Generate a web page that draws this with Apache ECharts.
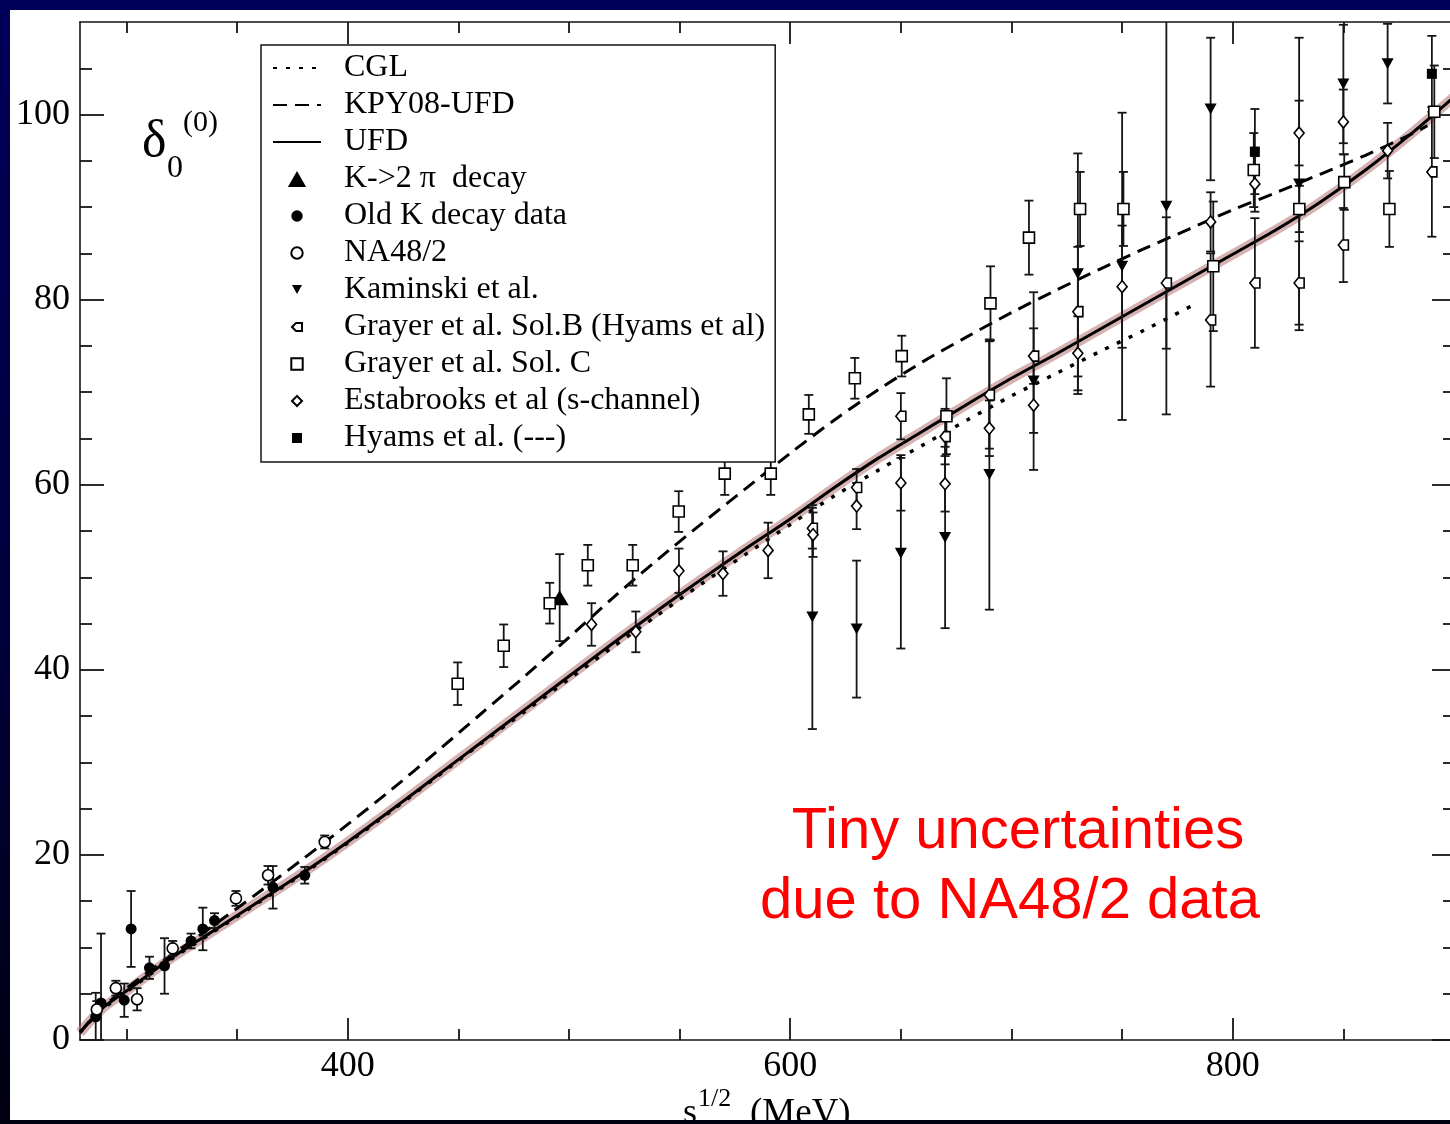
<!DOCTYPE html>
<html><head><meta charset="utf-8">
<script src="https://cdn.jsdelivr.net/npm/echarts/dist/echarts.min.js"></script>
<style>
html,body{margin:0;padding:0;width:1450px;height:1124px;overflow:hidden;
background:linear-gradient(to bottom,#00005a 0%,#00003c 55%,#000010 100%);}
#main{position:absolute;left:10px;top:10px;width:1440px;height:1110px;background:#fff;}
</style></head><body><div id="main"></div>
<script>
// ---------- axes ----------
const X_MIN = 279, X_MAX = 900, Y_MIN = 0, Y_MAX = 110;
const xMajorTicks = [400, 600, 800];
const xMinorTicks = [300, 350, 450, 500, 550, 650, 700, 750, 850, 900];
const yMajorTicks = [0, 20, 40, 60, 80, 100];
const yMinorTicks = [5, 10, 15, 25, 30, 35, 45, 50, 55, 65, 70, 75, 85, 90, 95, 105];

// ---------- curves ----------
const ufdX = [279, 285, 290, 300, 320, 340, 360, 380, 400, 420, 440, 460, 480, 500, 520, 540, 560, 580, 600, 620, 640, 660, 680, 700, 720, 740, 760, 780, 800, 820, 840, 860, 880, 900];
const ufdY = [0.8, 2.4, 3.6, 5.3, 8.8, 11.9, 15.0, 18.1, 21.4, 24.9, 28.5, 32.1, 35.7, 39.3, 42.9, 46.4, 49.8, 53.1, 56.3, 59.7, 62.9, 65.8, 68.7, 71.5, 74.1, 76.8, 79.5, 82.2, 84.9, 87.6, 90.6, 94.0, 97.8, 101.9];

const kpyX = [279, 285, 290, 300, 320, 340, 360, 380, 400, 420, 440, 460, 480, 500, 520, 540, 560, 580, 600, 620, 640, 660, 680, 700, 720, 740, 760, 780, 800, 820, 840, 860, 880, 888];
const kpyY = [0.8, 2.5, 3.7, 5.6, 9.1, 12.5, 16.0, 19.6, 23.3, 27.1, 31.1, 35.2, 39.3, 43.5, 47.8, 51.9, 55.8, 59.6, 63.4, 67.0, 70.3, 73.3, 76.0, 78.6, 81.0, 83.3, 85.5, 87.6, 89.7, 91.6, 93.6, 95.6, 97.8, 98.8];

const cglX = [279, 285, 290, 300, 320, 340, 360, 380, 400, 420, 440, 460, 480, 500, 520, 540, 560, 580, 600, 620, 640, 660, 680, 700, 720, 740, 760, 782];
const cglY = [0.8, 2.4, 3.5, 5.2, 8.7, 11.8, 14.9, 18.0, 21.3, 24.8, 28.4, 32.0, 35.5, 39.0, 42.5, 45.9, 49.3, 52.5, 55.7, 58.8, 61.6, 64.3, 67.0, 69.6, 72.0, 74.4, 76.7, 79.4];

// ---------- data points ----------
const k2piX = [495.8];
const k2piY = [47.8];
const k2piErr = [4.7];

const oldKX = [286.1, 288.5, 299.0, 302.1, 310.4, 317.2, 329.2, 334.5, 339.8, 366.2, 380.6];
const oldKY = [2.5, 4.0, 4.3, 12.0, 7.8, 8.0, 10.7, 12.0, 12.9, 16.5, 17.8];
const oldKErr = [2.6, 7.5, 1.8, 4.1, 1.2, 3.0, 0.8, 2.3, 0.8, 2.3, 0.9];

const na48X = [286.6, 295.2, 304.8, 320.9, 349.5, 364.0, 389.6];
const na48Y = [3.3, 5.6, 4.4, 9.9, 15.3, 17.8, 21.4];
const na48Err = [0.9, 0.8, 1.2, 0.8, 0.8, 1.0, 0.7];

const kamX = [610, 630, 650, 670, 690, 710, 730, 750, 770, 790, 830, 850, 870];
const kamY = [45.7, 44.4, 52.6, 54.3, 61.1, 71.2, 82.8, 83.6, 90.1, 100.6, 92.5, 103.3, 105.5];
const kamErr = [12.1, 7.4, 10.3, 9.8, 14.6, 9.6, 13.0, 16.6, 22.5, 7.7, 15.8, 6.4, 4.3];

const grBX = [610, 630, 650, 670, 690, 710, 730, 770, 790, 810, 830, 850, 890];
const grBY = [55.3, 59.7, 67.4, 65.2, 69.7, 73.9, 78.7, 81.8, 77.8, 81.8, 81.8, 85.9, 93.8];
const grBErr = [2.2, 2.0, 2.5, 3.0, 5.8, 3.0, 7.0, 7.1, 7.2, 7.0, 4.5, 4.0, 7.0];

const grCX = [449.7, 470.5, 491.3, 508.5, 528.8, 549.6, 570.4, 591.2, 608.4, 629.2, 650.4, 670.6, 690.5, 707.9, 731.0, 750.6, 791.2, 809.5, 830.1, 850.4, 870.8, 891.1];
const grCY = [38.5, 42.6, 47.2, 51.3, 51.3, 57.1, 61.2, 61.2, 67.6, 71.5, 73.9, 67.4, 79.6, 86.7, 89.8, 89.8, 83.6, 94.0, 89.8, 92.7, 89.8, 100.3];
const grCErr = [2.3, 2.3, 2.2, 2.2, 2.2, 2.2, 2.3, 2.3, 2.1, 2.2, 2.2, 4.1, 4.0, 4.0, 4.0, 4.0, 7.0, 4.0, 2.5, 3.0, 4.1, 5.0];

const estX = [510.2, 530.2, 549.7, 569.6, 590.0, 610.3, 630.0, 650.0, 670.0, 690.0, 710.0, 730.0, 750.0, 790.0, 810.0, 830.0, 850.0, 870.0];
const estY = [44.9, 44.1, 50.7, 50.4, 52.9, 54.6, 57.7, 60.2, 60.1, 66.1, 68.6, 74.2, 81.4, 88.4, 92.5, 98.0, 99.2, 96.1];
const estErr = [2.3, 2.2, 2.4, 2.4, 3.0, 2.4, 2.5, 3.0, 3.0, 3.0, 3.0, 4.0, 6.6, 3.2, 3.0, 3.5, 3.5, 3.0];

const hyX = [810, 890];
const hyY = [96.0, 104.4];
const hyErr = [4.6, 4.1];

// ---------- names ----------
const N_CGL = 'CGL', N_KPY = 'KPY08-UFD', N_UFD = 'UFD';
const N_K2PI = 'K->2 π  decay', N_OLDK = 'Old K decay data', N_NA48 = 'NA48/2';
const N_KAM = 'Kaminski et al.', N_GRB = 'Grayer et al. Sol.B (Hyams et al)';
const N_GRC = 'Grayer et al. Sol. C', N_EST = 'Estabrooks et al (s-channel)', N_HY = 'Hyams et al. (---)';

// ---------- helpers ----------
const zip = (xs, ys) => xs.map((x, i) => [x, ys[i]]);
const SERIF = '"Liberation Serif","Times New Roman",serif';
const INK = '#151515';

function errSeries(xs, ys, errs) {
  return {
    type: 'custom', name: '_err', xAxisIndex: 0, yAxisIndex: 0, z: 3, silent: true, clip: true,
    data: xs.map((x, i) => [x, ys[i] - errs[i], ys[i] + errs[i]]),
    encode: { x: 0, y: [1, 2] },
    renderItem: function (params, api) {
      const x = api.value(0);
      const p1 = api.coord([x, api.value(1)]);
      const p2 = api.coord([x, api.value(2)]);
      const c = 4.5, st = { stroke: INK, lineWidth: 1.8 };
      return { type: 'group', children: [
        { type: 'line', shape: { x1: p1[0], y1: p1[1], x2: p2[0], y2: p2[1] }, style: st },
        { type: 'line', shape: { x1: p1[0] - c, y1: p1[1], x2: p1[0] + c, y2: p1[1] }, style: st },
        { type: 'line', shape: { x1: p2[0] - c, y1: p2[1], x2: p2[0] + c, y2: p2[1] }, style: st }
      ]};
    }
  };
}
function pts(name, xs, ys, symbol, size, filled) {
  return {
    type: 'scatter', name: name, xAxisIndex: 0, yAxisIndex: 0, z: 4,
    data: zip(xs, ys), symbol: symbol, symbolSize: size,
    itemStyle: { color: filled ? '#000' : '#fff', borderColor: '#000', borderWidth: filled ? 0 : 1.6, opacity: 1 }
  };
}
function curve(name, xs, ys, lineStyle, z) {
  return {
    type: 'line', name: name, data: zip(xs, ys), smooth: 0.3,
    symbol: 'none', showSymbol: false, z: z, silent: true,
    itemStyle: { color: '#000' }, lineStyle: lineStyle
  };
}
const SYM_DOWN = 'path://M0,0L10,0L5,9Z';
const SYM_UP = 'path://M0,14L8,0L16,14Z';
const SYM_GRB = 'path://M0,5L4,1L10,1L10,9L4,9Z';
const HIDE = { opacity: 0, color: '#000', borderWidth: 0 };

function xAx(pos, ticks, len, labels, line) {
  return {
    type: 'value', position: pos, min: X_MIN, max: X_MAX, gridIndex: 0,
    axisLine: { show: line, onZero: false, lineStyle: { color: INK, width: 1.6 } },
    axisTick: { show: true, inside: true, length: len, customValues: ticks, lineStyle: { color: INK, width: 1.8 } },
    axisLabel: labels ? { show: true, customValues: ticks, fontFamily: SERIF, fontSize: 36, color: '#000', margin: 9 } : { show: false },
    splitLine: { show: false }, minorTick: { show: false }
  };
}
function yAx(pos, ticks, len, labels, line) {
  return {
    type: 'value', position: pos, min: Y_MIN, max: Y_MAX, gridIndex: 0,
    axisLine: { show: line, onZero: false, lineStyle: { color: INK, width: 1.6 } },
    axisTick: { show: true, inside: true, length: len, customValues: ticks, lineStyle: { color: INK, width: 1.8 } },
    axisLabel: labels ? { show: true, customValues: ticks, fontFamily: SERIF, fontSize: 36, color: '#000', margin: 10 } : { show: false },
    splitLine: { show: false }, minorTick: { show: false }
  };
}

const chart = echarts.init(document.getElementById('main'), null, { renderer: 'canvas' });
chart.setOption({
  animation: false,
  backgroundColor: '#fff',
  grid: { left: 70, top: 12, right: -4, bottom: 80, containLabel: false, outerBoundsMode: 'none' },
  xAxis: [
    xAx('bottom', xMajorTicks, 22, true, true),
    xAx('bottom', xMinorTicks, 11, false, false),
    xAx('top', xMajorTicks, 22, false, true),
    xAx('top', xMinorTicks, 11, false, false)
  ],
  yAxis: [
    yAx('left', yMajorTicks, 24, true, true),
    yAx('left', yMinorTicks, 12, false, false),
    yAx('right', yMajorTicks, 22, false, true),
    yAx('right', yMinorTicks, 11, false, false)
  ],
  legend: {
    orient: 'vertical', left: 251, top: 35,
    padding: [7, 10, 8, 11], itemGap: 5, itemWidth: 48, itemHeight: 16,
    backgroundColor: '#fff', borderColor: INK, borderWidth: 1.5,
    selectedMode: false,
    textStyle: { fontFamily: SERIF, fontSize: 32, color: '#000', lineHeight: 32, padding: [0, 0, 0, 18] },
    data: [
      { name: N_CGL, itemStyle: HIDE }, { name: N_KPY, itemStyle: HIDE }, { name: N_UFD, itemStyle: HIDE },
      { name: N_K2PI, icon: SYM_UP },
      { name: N_OLDK, icon: 'path://M-2,-2M12,12M0,5A5,5,0,1,1,10,5A5,5,0,1,1,0,5Z' },
      { name: N_NA48, icon: 'path://M-2,-2M12,12M0,5A5,5,0,1,1,10,5A5,5,0,1,1,0,5Z' },
      { name: N_KAM, icon: 'path://M-3,-3M13,13M0,0L10,0L5,9Z' },
      { name: N_GRB, icon: 'path://M-3,-3M13,13M0,5L4,1L10,1L10,9L4,9Z' },
      { name: N_GRC, icon: 'path://M-2,-2M12,12M0,0L10,0L10,10L0,10Z' },
      { name: N_EST, icon: 'path://M-3,-3M13,13M5,0L10,5L5,10L0,5Z' },
      { name: N_HY, icon: 'path://M-3,-3M13,13M0,0L10,0L10,10L0,10Z' }
    ]
  },
  series: [
    curve('_band', ufdX, ufdY, { color: 'rgba(180,115,115,0.55)', width: 10 }, 1),
    curve(N_CGL, cglX, cglY, { color: '#000', width: 3.5, type: [4, 9] }, 2),
    curve(N_KPY, kpyX, kpyY, { color: '#000', width: 3, type: [14, 8] }, 2),
    curve(N_UFD, ufdX, ufdY, { color: '#000', width: 3 }, 2),

    errSeries(oldKX, oldKY, oldKErr),
    errSeries(na48X, na48Y, na48Err),
    errSeries(k2piX, k2piY, k2piErr),
    errSeries(kamX, kamY, kamErr),
    errSeries(grBX, grBY, grBErr),
    errSeries(grCX, grCY, grCErr),
    errSeries(estX, estY, estErr),
    errSeries(hyX, hyY, hyErr),

    pts(N_OLDK, oldKX, oldKY, 'circle', 11, true),
    pts(N_NA48, na48X, na48Y, 'circle', 11, false),
    pts(N_K2PI, k2piX, k2piY, SYM_UP, [18, 15], true),
    pts(N_KAM, kamX, kamY, SYM_DOWN, [12, 11], true),
    pts(N_GRB, grBX, grBY, SYM_GRB, 10, false),
    pts(N_GRC, grCX, grCY, 'rect', 11, false),
    pts(N_EST, estX, estY, 'diamond', [10, 12], false),
    pts(N_HY, hyX, hyY, 'rect', 10, true)
  ],
  graphic: [
    { type: 'text', x: 132, y: 132, z: 10, style: { text: 'δ', font: '52px ' + SERIF, fill: '#000', verticalAlign: 'middle', align: 'left' } },
    { type: 'text', x: 157, y: 159, z: 10, style: { text: '0', font: '32px ' + SERIF, fill: '#000', verticalAlign: 'middle', align: 'left' } },
    { type: 'text', x: 173, y: 113, z: 10, style: { text: '(0)', font: '30px ' + SERIF, fill: '#000', verticalAlign: 'middle', align: 'left' } },
    { type: 'text', x: 1008, y: 822, z: 10, style: { text: 'Tiny uncertainties', font: '58px "Liberation Sans",Arial,sans-serif', fill: '#ff0000', verticalAlign: 'middle', align: 'center' } },
    { type: 'text', x: 1000, y: 892, z: 10, style: { text: 'due to NA48/2 data', font: '58px "Liberation Sans",Arial,sans-serif', fill: '#ff0000', verticalAlign: 'middle', align: 'center' } },
    { type: 'text', x: 673, y: 1104, z: 10, style: { text: 's', font: '36px ' + SERIF, fill: '#000', verticalAlign: 'middle', align: 'left' } },
    { type: 'text', x: 688, y: 1089, z: 10, style: { text: '1/2', font: '26px ' + SERIF, fill: '#000', verticalAlign: 'middle', align: 'left' } },
    { type: 'text', x: 740, y: 1104, z: 10, style: { text: '(MeV)', font: '37px ' + SERIF, fill: '#000', verticalAlign: 'middle', align: 'left' } }
  ]
});
</script></body></html>
